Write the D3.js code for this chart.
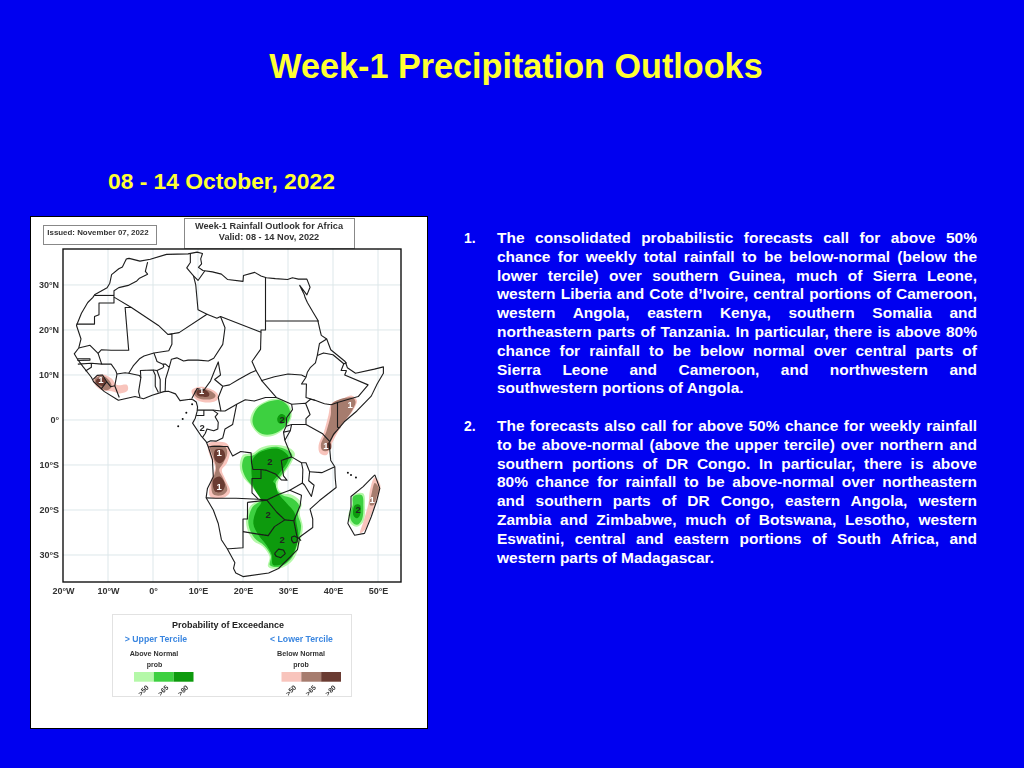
<!DOCTYPE html>
<html><head><meta charset="utf-8">
<script src="https://cdnjs.cloudflare.com/ajax/libs/d3/7.8.5/d3.min.js"></script>
<style>html,body{margin:0;padding:0;background:#0000f0;overflow:hidden}svg{display:block}text{font-family:"Liberation Sans",Arial,sans-serif;font-weight:bold}</style>
</head><body><svg id="c" width="1024" height="768"></svg>
<script>
const titleText="Week-1 Precipitation Outlooks";
const subtitleText="08 - 14 October, 2022";
const issuedText="Issued: November 07, 2022";
const mapTitle=["Week-1 Rainfall Outlook for Africa","Valid: 08 - 14 Nov, 2022"];
const lonTicks=[-20,-10,0,10,20,30,40,50];
const latTicks=[30,20,10,0,-10,-20,-30];
const para1=["The consolidated probabilistic forecasts call for above 50%","chance for weekly total rainfall to be below-normal (below the","lower tercile) over southern Guinea, much of Sierra Leone,","western Liberia and Cote d’Ivoire, central portions of Cameroon,","western Angola, eastern Kenya, southern Somalia and","northeastern parts of Tanzania. In particular, there is above 80%","chance for rainfall to be below normal over central parts of","Sierra Leone and Cameroon, and northwestern and","southwestern portions of Angola."];
const para2=["The forecasts also call for above 50% chance for weekly rainfall","to be above-normal (above the upper tercile) over northern and","southern portions of DR Congo. In particular, there is above","80% chance for rainfall to be above-normal over northeastern","and southern parts of DR Congo, eastern Angola, western","Zambia and Zimbabwe, much of Botswana, Lesotho, western","Eswatini, central and eastern portions of South Africa, and","western parts of Madagascar."];
const legendBins=[">50",">65",">80"];
const greens=["#b4f8a8","#3cd040","#0a9a0a"];
const browns=["#f8c4bc","#a67b6e","#6b3a30"];

const coast=[[-5.9,35.8],[-5.3,35.9],[-2.9,35.3],[-0.6,35.7],[3,36.8],[7.8,36.9],[9.8,37.3],[11,37],[10.6,35.8],[10.8,34.7],[10.1,33.9],[11.1,33.2],[13.2,32.9],[15.2,32.4],[16.6,31.2],[20,30.8],[20.1,32.1],[22.6,32.8],[24,32],[25.2,31.6],[27.2,31.4],[29.9,31.2],[31,31.6],[32.3,31.3],[34.2,31.3],[34.9,29.5],[34.2,27.8],[32.6,29.9],[33.6,27.9],[33.8,27.2],[34.3,26.1],[35.6,23.9],[36.6,22.2],[37.2,19.6],[37.4,18.8],[38.6,18],[39.5,15.6],[42.7,13],[43.2,11.6],[45,10.4],[49.2,11.3],[51.2,11.8],[51.2,10.4],[49.8,8],[48.5,5.3],[45.3,2],[42.5,-0.4],[40.9,-2.3],[40.1,-3.2],[39.7,-4],[39.1,-5.1],[39.3,-6.8],[39.5,-9],[40.4,-10.4],[40.5,-13],[40.7,-15],[37,-17.9],[34.9,-19.8],[35.5,-22],[35.5,-23.9],[32.6,-26],[32.1,-28.8],[31,-29.9],[27.9,-33],[25.7,-34],[20,-34.8],[18.4,-34],[17.9,-33],[18.2,-31.7],[16.5,-28.6],[15.2,-26.6],[14.5,-23],[13.4,-20],[11.8,-17.3],[12.1,-15.2],[13.4,-12.6],[13.2,-8.8],[12.3,-6],[11.8,-4.8],[10.6,-3.4],[8.8,-0.7],[9.4,0.4],[9.8,1.9],[9.9,2.9],[9.6,4],[8.9,4.5],[8.3,4.6],[6,4.3],[5,5.8],[3.4,6.4],[2.4,6.3],[-0.2,5.5],[-2.1,4.7],[-4,5.2],[-7.7,4.4],[-10.8,6.3],[-13.2,8.5],[-13.7,9.5],[-15.6,11.9],[-16.7,13.4],[-17.5,14.7],[-16.5,16],[-16,18],[-17,21],[-15.9,23.7],[-14.5,26.1],[-13.4,27.2],[-12.9,27.9],[-10.2,29.4],[-9.6,30.4],[-9.2,32.3],[-7.6,33.6],[-6.8,34],[-5.9,35.8]];
const madagascar=[[49.3,-12.2],[50.4,-15.2],[49.7,-18],[48.5,-21.5],[47,-25.2],[44.8,-25.6],[43.3,-23],[44,-19.3],[44,-17],[46.7,-14.8],[48.5,-13],[49.3,-12.2]];
const eswatini=[[30.8,-26],[31.5,-25.8],[32.1,-26.2],[32,-27.1],[31.2,-27.3],[30.8,-26.7],[30.8,-26]];
const lesotho=[[27,-29.7],[27.9,-28.7],[29,-28.9],[29.4,-29.7],[28.4,-30.6],[27.4,-30.3],[27,-29.7]];
const borders=[
[[-1.2,35.1],[-1.7,33],[-1.2,32.4],[-3,31.5],[-3.6,30.9],[-5.5,29.9],[-7.6,29.4],[-8.67,28.7],[-8.67,26],[-12,26],[-12,23.4],[-13,23],[-13,21.3],[-17,21.3]],
[[-13,27.67],[-8.67,27.67]],
[[-8.67,27.3],[-4.8,25],[1.2,21],[3.3,19],[5.8,19.4],[12,23.5],[10,24.5],[9.5,30],[9,32],[7.5,33.8],[8.3,35],[8.3,36.9]],
[[9,32],[10,31],[11.5,33.1]],
[[25,31.6],[25,20],[24,20],[24,19.5],[15,23],[14.2,22.6],[12,23.5]],
[[25,22],[36.9,22]],
[[15,23],[16,20.5],[15.5,16.8],[13.5,13.7],[12.3,13.1],[10,13.3],[7.8,13.3],[6.8,13.1],[5.3,13.8],[4.1,13.5],[3.6,11.7],[2.8,12.4],[2.2,12.4],[0.9,13],[0.2,14.9],[3.5,15.4],[4.2,16.8],[4.2,19.1],[3.3,19]],
[[-4.8,25],[-6.2,25],[-5.4,15.5],[-9.3,15.5],[-11.5,15.6],[-12.2,14.8],[-11.4,12.4],[-13.7,12.6],[-16.7,12.4]],
[[0.2,14.9],[-2,14.2],[-3,13.6],[-4.4,12],[-5.4,10.4],[-6.2,10.5],[-8,10.2],[-8.3,11],[-9.3,12.4],[-11.4,12.4]],
[[-16.5,16],[-14,16.6],[-12.2,14.8]],
[[-13.7,12.6],[-13.7,11.7],[-15,10.9]],
[[-16.8,13.6],[-14,13.6],[-14,13.3],[-16.8,13.2]],
[[-13.3,9],[-12.4,9.9],[-11.2,10],[-10.3,8.5],[-9.4,7.4],[-8.5,7.6],[-8,10.2]],
[[-11.5,6.9],[-10.3,8.5]],
[[-8.5,7.6],[-7.5,5]],
[[-5.4,10.4],[-3,9.9],[-2.7,9.4],[-3.2,6.3],[-2.9,5.1]],
[[-2.7,9.4],[-2.8,11],[0,11.1],[0.5,10],[0.5,7.5],[1.2,6.1]],
[[0,11.1],[0.9,11],[1.6,9],[1.6,6.2]],
[[0.9,11],[2.2,11.6],[2.4,11.9],[2.2,12.4]],
[[3.6,11.7],[2.8,9.1],[2.7,6.4]],
[[8.6,4.7],[9.8,7],[11.3,6.6],[12.8,8.7],[13.7,11],[14.5,12.9],[15,10],[13.7,9],[15.5,7.5],[17,7.8],[19,9],[21.7,10.5],[22.9,11],[22,13],[23.9,15.7],[24,19.5]],
[[15.5,7.5],[14.5,5],[15.1,2],[16,2],[18.6,3.5],[20.5,4.5],[22.5,4.2],[25,5],[27.4,5],[24.2,8.7],[22.9,11]],
[[9.8,2.2],[13.3,2.2],[15.1,2]],
[[11.3,2.2],[11.3,1],[9.6,1]],
[[13.3,2.2],[14.4,1.4],[13.8,0.7],[14.5,-0.5],[14.4,-2],[13.5,-2.4],[12,-2],[11.6,-3],[11,-3.9]],
[[24,8.7],[27,9.6],[30,10.2],[33,10],[34,9.5]],
[[18.6,3.5],[17.7,-1],[16,-2],[15.5,-4],[14,-4.7],[12.8,-4.6],[12,-5]],
[[12.3,-6],[13,-5.9],[16.6,-5.9],[17.7,-8],[19.5,-7],[21.8,-7.3],[21.9,-9.5],[22.2,-11],[24,-11],[24,-13],[22,-13],[22,-16.2],[23.4,-17.6]],
[[11.8,-17.3],[13.9,-17.4],[18.5,-17.4],[23.4,-17.6],[25.3,-17.8]],
[[21,-18.3],[21,-22],[20,-22],[20,-28.4],[17,-28.6],[16.5,-28.6]],
[[21,-18.3],[25.3,-17.8]],
[[20,-24.8],[23,-25.3],[25.6,-25.7],[27,-23.7],[29.3,-22.2],[31.3,-22.4],[32,-25.9],[32.9,-26.8]],
[[25.3,-17.8],[27.5,-20.5],[29.3,-22.2]],
[[25.3,-17.8],[28,-16.5],[30.4,-15.6],[33,-16.7],[32.7,-19],[31.3,-22.4]],
[[24,-11],[25.3,-11.2],[27.2,-12],[28.5,-13.3],[29.8,-13.4],[29,-12.4],[28.5,-9],[30.8,-8.2],[33,-9.5],[34,-9.5],[34.8,-11.5],[34.6,-13.5],[35.8,-14.5],[35.2,-17],[33.7,-14.5],[33.2,-14],[33.3,-11],[33,-9.5]],
[[30.4,-15.6],[33.2,-14]],
[[34.8,-11.5],[37.5,-11.7],[40.4,-10.4]],
[[30.8,-8.2],[29.3,-4.5],[30.5,-2.4],[30.8,-1],[34,-1],[37.6,-3],[39.2,-4.7]],
[[29.3,-4.5],[29,-2.7],[30.5,-2.4]],
[[29,-2.7],[29.6,-1.4],[30.8,-1]],
[[29.6,-1.4],[29.7,0.5],[31,2.3],[30.8,3.5],[33.9,3.7],[34.9,1.2],[34,0.3],[34,-1]],
[[27.4,5],[30.8,3.5]],
[[33.9,3.7],[35,4.6],[36,4.4],[38.1,3.6],[39.6,3.4],[41,3.9],[41,-1.6],[41.6,-1.7]],
[[41,3.9],[45.6,5.2],[47.8,7.8],[42.6,10],[43,11]],
[[36,4.4],[34,5],[34.1,8],[33,8],[34,9.5],[34.3,10.6],[35,11.7],[36.1,12.7],[36.5,14.3],[37,17],[38.6,18]],
[[36.5,14.3],[37.9,14.9],[40,14.5],[42.4,12.5],[43.1,12.7]],
[[42.4,12.5],[41.8,11],[43,11]]
];
const islands=[[8.7,3.5],[7.4,1.6],[6.6,0.2],[5.6,-1.4],[43.3,-11.7],[44,-12.2],[45.1,-12.8]];

const aboveLight=[
[[21.6,0],[22.7,2.6],[25.3,4.3],[28.2,4.7],[30.3,3.3],[30.8,0.7],[29.3,-1.85],[26.7,-3.5],[24.1,-3.5],[22.3,-1.85]],
[[25.9,-5.6],[29.6,-5.9],[31.5,-7.4],[30.7,-9.6],[28.9,-12.2],[27.8,-13.7],[27.8,-15.2],[28.9,-16.3],[31.1,-16.7],[33,-18.5],[32.6,-20.7],[33.3,-23.7],[32.6,-27.4],[31.1,-31.1],[28.1,-33],[25.6,-32.6],[25.9,-30.4],[24.4,-28.1],[22.2,-26.7],[20.7,-23],[21.5,-19.3],[23.7,-17.4],[21.9,-14.8],[20,-12.6],[19.3,-10.4],[20,-7.8],[22.2,-7.4],[23.7,-6.3]],
[[44.5,-16.7],[46.7,-16.3],[47.1,-19.3],[46.75,-22.6],[45.3,-23.7],[43.9,-23],[43.4,-21.1],[44.2,-18.9]]];
const aboveMid=[
[[22.1,0],[23.1,2.5],[25.4,4],[28.2,4.4],[30,3.1],[30.5,0.7],[29.1,-1.7],[26.6,-3.1],[24.3,-3.1],[22.6,-1.7]],
[[22.2,-7.9],[24,-6.7],[27.8,-6],[30.9,-7.6],[30.3,-9.6],[28.4,-12.4],[27.3,-13.8],[27.5,-15.4],[28.8,-16.7],[30.9,-17.4],[32.5,-19],[32.2,-21],[32.9,-23.5],[32.2,-27],[30.8,-30.7],[28.1,-32.6],[26,-32.3],[26.2,-30.2],[24.7,-27.9],[22.6,-26.3],[21.2,-23],[22,-19.5],[24,-17.6],[22.3,-15],[20.5,-12.6],[19.8,-10.4],[20.4,-8.2]],
[[44.5,-17],[46.4,-16.7],[46.75,-19.3],[46.4,-22.2],[45.3,-23.3],[44.2,-22.6],[43.8,-21.1],[44.4,-18.9]]];
const aboveDark=[
[[27.6,0.3],[28.3,1.3],[29.3,1],[29.5,0],[28.8,-0.8],[27.9,-0.6]],
[[22.3,-8.5],[24.1,-7],[27.8,-6.4],[30.1,-8.1],[29.7,-9.6],[27.8,-12.2],[26.7,-13.7],[27.1,-14.1],[27.8,-16.3],[29.7,-18.5],[31.5,-20.7],[31.9,-23],[32.3,-25.9],[31.2,-29.6],[29.3,-31.8],[26.7,-32.2],[26.4,-30],[25.2,-27.8],[23.4,-25.5],[22.3,-23],[23,-20],[24.1,-18.1],[22.7,-15.6],[22.1,-13.7],[21.9,-10]],
[[44.9,-18.9],[46,-18.9],[46,-21.1],[45.3,-21.85],[44.5,-21.1]]];
const belowLight=[
[[-13.2,9.2],[-11.4,10.1],[-9.2,9.2],[-8.1,7.8],[-5.8,7.8],[-5.6,6.6],[-7.3,5.9],[-9.2,6.4],[-11.4,6.6],[-12.9,7.8]],
[[8.6,6.6],[10.5,7.4],[13.4,6.6],[14.5,5.5],[14.2,4.4],[11.6,3.9],[9.3,4.8]],
[[12.3,-5.2],[16.4,-5.2],[17.1,-7],[16.4,-9.6],[15.3,-11.1],[16,-13],[17.1,-16],[15.6,-17.3],[12.7,-17],[12.7,-14.1],[13.8,-10.4],[12.7,-8.1]],
[[39.7,3.7],[42.3,4.8],[44.2,5.4],[45.3,4.4],[44.5,2.2],[42.3,-0.7],[40.5,-3.7],[39.3,-6.3],[38.6,-7.8],[37.1,-7.4],[36.8,-5.6],[38,-2.6],[39,1.1]],
[[49.3,-12.7],[50.5,-14.4],[50.1,-17],[48.6,-20.7],[47.1,-24.4],[46,-25.2],[46.75,-22.6],[47.9,-18.5],[48.2,-15.6]]];
const belowMid=[
[[-12.9,9.1],[-11.4,9.8],[-9.8,8.9],[-9.2,7.4],[-10.3,6.6],[-11.8,7.2],[-12.7,7.9]],
[[9.2,6.4],[10.8,7],[13,6.3],[13.9,5.4],[13.4,4.8],[10.8,4.6],[9.5,5.2]],
[[12.7,-5.9],[16,-5.9],[16.5,-7.4],[15.6,-9.6],[14.7,-11.1],[15.6,-13],[16.5,-15.6],[15.3,-16.7],[13.4,-16.5],[13,-14.1],[14,-10.7],[13.3,-8.1]],
[[39.9,3.7],[44.2,5],[45,4.1],[44.2,2],[41.6,-1.5],[39.7,-4.4],[39,-6.7],[37.7,-6.8],[37.3,-5.6],[38.5,-2.6],[39.5,1.1]],
[[49.3,-14],[50.2,-15.2],[49.7,-17],[49,-18.9],[48.2,-18.9],[48.6,-16.3]]];
const belowDark=[
[[-12.4,9.1],[-11.2,9.5],[-10.5,8.6],[-11,7.6],[-12.1,7.8],[-12.7,8.5]],
[[9.7,6.4],[11.2,6.9],[12.5,5.9],[12.3,5.2],[10.8,5.2],[9.9,5.5]],
[[13.8,-6.7],[15.6,-6.7],[16,-8.5],[14.9,-9.6],[13.8,-8.9]],
[[13.4,-13.3],[14.9,-12.6],[16,-14.4],[15.3,-15.9],[13.8,-15.9]],
[[38.6,-5.2],[39.5,-5.2],[39.5,-6.5],[38.6,-6.5]]];
const oneLabels=[[-11.6,8.9],[10.8,6.4],[14.7,-7.3],[14.7,-14.9],[43.8,3.3],[38.4,-5.6],[48.7,-17.8]];
const twoLabels=[[28.7,0],[10.9,-1.6],[26,-9.3],[45.6,-20],[25.6,-21.1],[28.7,-26.7]];

const svg=d3.select("#c");
const YEL="#ffff33", INK="#333";
svg.append("rect").attr("width",1024).attr("height",768).attr("fill","#0000f0");
const defs=svg.append("defs");
defs.append("filter").attr("id","soft").attr("x","-2%").attr("y","-2%").attr("width","104%").attr("height","104%").append("feGaussianBlur").attr("stdDeviation",0.4);
svg.append("text").attr("x",516).attr("y",78).attr("text-anchor","middle").attr("font-size",34.2).attr("fill",YEL).text(titleText);
svg.append("text").attr("x",108).attr("y",189).attr("font-size",22.8).attr("fill",YEL).text(subtitleText);
svg.append("rect").attr("x",30.5).attr("y",216.5).attr("width",397).attr("height",512).attr("fill","#fff").attr("stroke","#000").attr("stroke-width",1);

const panel=svg.append("g").attr("filter","url(#soft)");
// header boxes
panel.append("rect").attr("x",43.5).attr("y",225.5).attr("width",113).attr("height",19).attr("fill","#fff").attr("stroke","#888");
panel.append("text").attr("x",98).attr("y",232.5).attr("dy","0.33em").attr("text-anchor","middle").attr("font-size",7.9).attr("fill",INK).text(issuedText);
panel.append("rect").attr("x",184.5).attr("y",218.5).attr("width",170).attr("height",30).attr("fill","#fff").attr("stroke","#888");
panel.selectAll(".mt").data(mapTitle).join("text").attr("x",269).attr("y",(d,i)=>226+i*11).attr("dy","0.33em").attr("text-anchor","middle").attr("font-size",9.2).attr("fill",INK).text(d=>d);

// map
const x=d3.scaleLinear().domain([-20,55.11]).range([63,401]);
const y=d3.scaleLinear().domain([37.99,-36]).range([249,582]);
svg.append("clipPath").attr("id","pc").append("rect").attr("x",63).attr("y",249).attr("width",338).attr("height",333);
const g=panel.append("g").attr("clip-path","url(#pc)");
g.selectAll(".gx").data(lonTicks.slice(1)).join("line").attr("x1",d=>x(d)).attr("x2",d=>x(d)).attr("y1",249).attr("y2",582).attr("stroke","#dde7ea");
g.selectAll(".gy").data(latTicks).join("line").attr("y1",d=>y(d)).attr("y2",d=>y(d)).attr("x1",63).attr("x2",401).attr("stroke","#dde7ea");
const blob=d3.line().x(d=>x(d[0])).y(d=>y(d[1])).curve(d3.curveCatmullRomClosed.alpha(0.5));
const poly=d3.line().x(d=>x(d[0])).y(d=>y(d[1]));
[[aboveLight,greens[0]],[belowLight,browns[0]],[aboveMid,greens[1]],[belowMid,browns[1]],[aboveDark,greens[2]],[belowDark,browns[2]]].forEach(([set,c])=>{
  g.append("g").selectAll("path").data(set).join("path").attr("d",blob).attr("fill",c);
});
const lines=g.append("g").attr("fill","none").attr("stroke","#1c1c1c").attr("stroke-width",1.1).attr("stroke-linejoin","round");
lines.selectAll(".b").data(borders.concat([coast,madagascar,eswatini,lesotho])).join("path").attr("d",poly);
g.selectAll(".isl").data(islands).join("circle").attr("cx",d=>x(d[0])).attr("cy",d=>y(d[1])).attr("r",1).attr("fill","#111");
g.selectAll(".one").data(oneLabels).join("text").attr("x",d=>x(d[0])).attr("y",d=>y(d[1])).attr("dy","0.35em").attr("text-anchor","middle").attr("font-size",9.5).attr("fill","#fff").text("1");
g.selectAll(".two").data(twoLabels).join("text").attr("x",d=>x(d[0])).attr("y",d=>y(d[1])).attr("dy","0.35em").attr("text-anchor","middle").attr("font-size",9.5).attr("fill","#222").text("2");
panel.append("rect").attr("x",63).attr("y",249).attr("width",338).attr("height",333).attr("fill","none").attr("stroke","#111").attr("stroke-width",1.4);

// axes
const fmtLon=d=>d===0?"0°":Math.abs(d)+"°"+(d<0?"W":"E");
const fmtLat=d=>d===0?"0°":Math.abs(d)+"°"+(d<0?"S":"N");
const ax=panel.append("g").attr("transform","translate(0,582)").call(d3.axisBottom(x).tickValues(lonTicks).tickFormat(fmtLon).tickSize(0).tickPadding(5.5));
const ay=panel.append("g").attr("transform","translate(63,0)").call(d3.axisLeft(y).tickValues(latTicks).tickFormat(fmtLat).tickSize(0).tickPadding(4));
[ax,ay].forEach(a=>{a.select(".domain").remove();a.selectAll("text").attr("font-size",9).attr("fill",INK).attr("font-family",'"Liberation Sans",Arial,sans-serif').attr("font-weight","bold");});

// legend
panel.append("rect").attr("x",112.5).attr("y",614.5).attr("width",239).attr("height",82).attr("fill","#fff").attr("stroke","#e2e2e2");
const leg=(t,xx,yy,s,c,a)=>panel.append("text").attr("x",xx).attr("y",yy).attr("dy","0.35em").attr("text-anchor",a||"middle").attr("font-size",s).attr("fill",c).text(t);
leg("Probability of Exceedance",228,625,9,"#222");
leg("> Upper Tercile",156,639,8.7,"#3a86e0");
leg("< Lower Tercile",301.5,638.5,8.7,"#3a86e0");
leg("Above Normal",154,653,7.2,"#333");
leg("Below Normal",301,653,7.2,"#333");
leg("prob",154.5,664.5,7,"#333");
leg("prob",301,664.5,7,"#333");
[[134,greens],[281.5,browns]].forEach(([x0,cols])=>{
  const b=d3.scaleBand().domain(legendBins).range([x0,x0+59.5]);
  panel.append("g").selectAll("rect").data(legendBins).join("rect").attr("x",d=>b(d)).attr("y",672).attr("width",b.bandwidth()).attr("height",9.7).attr("fill",(d,i)=>cols[i]);
  panel.append("g").selectAll("text").data(legendBins).join("text").attr("transform",d=>`translate(${b(d)+b.bandwidth()/2-0.5},690.5) rotate(-45)`).attr("text-anchor","middle").attr("dy","0.33em").attr("font-size",6.8).attr("fill","#333").text(d=>d);
});

// justified text
const FS=15.5, LEFT=497, RIGHT=977;
function para(ls,y0,num){
  svg.append("text").attr("x",464).attr("y",y0).attr("font-size",FS-1.5).attr("fill","#fff").text(num);
  ls.forEach((l,i)=>{
    const t=svg.append("text").attr("x",LEFT).attr("y",y0+i*18.8).attr("font-size",FS).attr("fill","#fff").text(l);
    if(i<ls.length-1){
      const gaps=l.split(" ").length-1;
      const w=t.node().getComputedTextLength();
      t.attr("word-spacing",(RIGHT-LEFT-w)/gaps);
    }
  });
}
para(para1,243,"1.");
para(para2,431,"2.");
</script></body></html>
